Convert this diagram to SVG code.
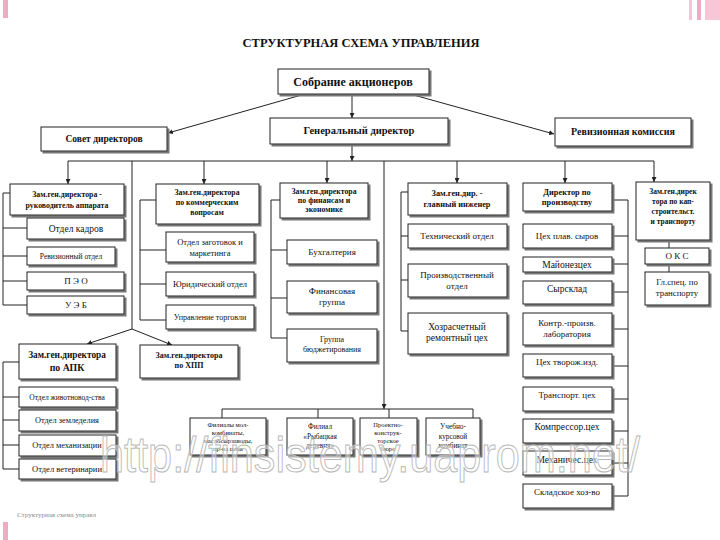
<svg xmlns="http://www.w3.org/2000/svg" width="720" height="540" viewBox="0 0 720 540">
<style>
text{font-family:"Liberation Serif","Times New Roman",serif;fill:#111;text-anchor:middle}
.b{font-weight:bold}
rect.bx{fill:#fff;stroke:#222;stroke-width:1;filter:url(#sh)}
.c{fill:none;stroke:#222;stroke-width:1}
.a{marker-end:url(#ah)}
.s{font-size:6.6px}
.wm{font-family:"Liberation Sans",Arial,sans-serif;text-anchor:start;fill:#fff;fill-opacity:0.45;stroke:#b8b8b8;stroke-width:1}
</style>
<defs>
<filter id="sh" x="-5%" y="-5%" width="115%" height="125%"><feDropShadow dx="2" dy="2" stdDeviation="0.4" flood-color="#777"/></filter>
<marker id="ah" viewBox="0 0 10 10" refX="10" refY="5" markerWidth="5" markerHeight="5" orient="auto"><path d="M0,0L10,5L0,10z" fill="#222"/></marker>
</defs>
<rect width="720" height="540" fill="#fff"/>
<rect x="3" y="0" width="5" height="18" fill="#f2a9c2"/>
<rect x="689" y="0" width="3" height="20" fill="#f6c2d4"/>
<rect x="697" y="0" width="4" height="20" fill="#f2a9c2"/>
<rect x="705" y="0" width="15" height="20" fill="#f7c6d7"/>
<rect x="3" y="522" width="5" height="18" fill="#f2a9c2"/>
<text x="361" y="47" class="b" font-size="12.5">СТРУКТУРНАЯ СХЕМА УПРАВЛЕНИЯ</text>

<g id="connectors">
<line class="c a" x1="305" y1="94" x2="168" y2="133"/>
<line class="c a" x1="410" y1="94" x2="554" y2="134"/>
<line class="c a" x1="352" y1="94" x2="352" y2="118"/>
<line class="c a" x1="352" y1="144" x2="352" y2="161"/>
<line class="c" x1="68" y1="161" x2="654" y2="161"/>
<line class="c a" x1="68" y1="161" x2="68" y2="184"/>
<line class="c a" x1="204" y1="161" x2="204" y2="184"/>
<line class="c a" x1="327" y1="161" x2="327" y2="183"/>
<line class="c a" x1="457" y1="161" x2="457" y2="183"/>
<line class="c a" x1="565" y1="161" x2="565" y2="183"/>
<line class="c a" x1="654" y1="161" x2="654" y2="182"/>
<polyline class="c" points="132,161 132,329"/>
<line class="c a" x1="132" y1="329" x2="87" y2="344"/>
<line class="c a" x1="132" y1="329" x2="172" y2="345"/>
<line class="c a" x1="384" y1="161" x2="384" y2="409"/>
<polyline class="c" points="10,193 3,193 3,305 27,305"/>
<polyline class="c" points="3,228 27,228"/>
<polyline class="c" points="3,256 27,256"/>
<polyline class="c" points="3,281 27,281"/>
<polyline class="c" points="156,200 140,200 140,320 166,320"/>
<polyline class="c" points="140,250 166,250"/>
<polyline class="c" points="140,284 166,284"/>
<polyline class="c" points="280,200 271,200 271,338 287,338"/>
<polyline class="c" points="271,250 287,250"/>
<polyline class="c" points="271,298 287,298"/>
<polyline class="c" points="408,192 401,192 401,331 408,331"/>
<polyline class="c" points="401,236 408,236"/>
<polyline class="c" points="401,280 408,280"/>
<polyline class="c" points="612,200 628,200 628,496 612,496"/>
<polyline class="c" points="612,236 628,236"/>
<polyline class="c" points="612,264 628,264"/>
<polyline class="c" points="612,292 628,292"/>
<polyline class="c" points="612,329 628,329"/>
<polyline class="c" points="612,366 628,366"/>
<polyline class="c" points="612,399 628,399"/>
<polyline class="c" points="612,431 628,431"/>
<polyline class="c" points="612,463 628,463"/>
<line class="c" x1="669" y1="240" x2="669" y2="248"/>
<line class="c" x1="669" y1="264" x2="669" y2="272"/>
<polyline class="c" points="19,362 3,362 3,469 19,469"/>
<polyline class="c" points="3,397 19,397"/>
<polyline class="c" points="3,420 19,420"/>
<polyline class="c" points="3,445 19,445"/>
<line class="c" x1="222" y1="409" x2="473" y2="409"/>
<line class="c" x1="222" y1="409" x2="222" y2="418"/>
<line class="c" x1="318" y1="409" x2="318" y2="418"/>
<line class="c" x1="389" y1="409" x2="389" y2="418"/>
<line class="c" x1="473" y1="409" x2="473" y2="418"/>
</g>

<g id="sobranie"><rect class="bx" x="278" y="69" width="151" height="25"/><text x="353" y="86" class="b" font-size="12">Собрание акционеров</text></g>
<g id="gendir"><rect class="bx" x="270" y="118" width="178" height="26"/><text x="359" y="134" class="b" font-size="10.5">Генеральный директор</text></g>
<g id="sovet"><rect class="bx" x="41" y="127" width="126" height="24"/><text x="104" y="142" class="b" font-size="9.5">Совет директоров</text></g>
<g id="revkom"><rect class="bx" x="555" y="118" width="136" height="28"/><text x="623" y="135" class="b" font-size="10">Ревизионная комиссия</text></g>

<g id="zam-apparat"><rect class="bx" x="10" y="184" width="114" height="31"/><text x="67" y="197" class="b" font-size="7.8">Зам.ген.директора -</text><text x="67" y="208" class="b" font-size="7.8">руководитель аппарата</text></g>
<g id="kadry"><rect class="bx" x="27" y="218" width="97" height="21"/><text x="76" y="232" font-size="9.5">Отдел кадров</text></g>
<g id="revotdel"><rect class="bx" x="27" y="247" width="88" height="18"/><text x="71" y="259" font-size="7.5">Ревизионный отдел</text></g>
<g id="peo"><rect class="bx" x="27" y="272" width="97" height="18"/><text x="76" y="284" font-size="9">П Э О</text></g>
<g id="ueb"><rect class="bx" x="27" y="296" width="97" height="18"/><text x="76" y="308" font-size="9">У Э Б</text></g>

<g id="zam-kom"><rect class="bx" x="156" y="184" width="103" height="40"/><text x="207" y="195" class="b" font-size="7.8">Зам.ген.директора</text><text x="207" y="205" class="b" font-size="7.8">по коммерческим</text><text x="207" y="215" class="b" font-size="7.8">вопросам</text></g>
<g id="zagotovki"><rect class="bx" x="166" y="232" width="88" height="30"/><text x="210" y="245" font-size="8.5">Отдел заготовок и</text><text x="210" y="256" font-size="8.5">маркетинга</text></g>
<g id="yurotdel"><rect class="bx" x="166" y="272" width="88" height="24"/><text x="210" y="287" font-size="8.5">Юридический отдел</text></g>
<g id="torgovlya"><rect class="bx" x="166" y="305" width="88" height="24"/><text x="210" y="320" font-size="8">Управление торговли</text></g>

<g id="zam-fin"><rect class="bx" x="280" y="183" width="88" height="35"/><text x="324" y="194" class="b" font-size="7.8">Зам.ген.директора</text><text x="324" y="203" class="b" font-size="7.8">по финансам и</text><text x="324" y="212" class="b" font-size="7.8">экономике</text></g>
<g id="buh"><rect class="bx" x="287" y="240" width="90" height="24"/><text x="332" y="255" font-size="9">Бухгалтерия</text></g>
<g id="fingr"><rect class="bx" x="287" y="281" width="90" height="32"/><text x="332" y="294" font-size="9">Финансовая</text><text x="332" y="305" font-size="9">группа</text></g>
<g id="budzhet"><rect class="bx" x="287" y="329" width="90" height="33"/><text x="332" y="342" font-size="8">Группа</text><text x="332" y="352" font-size="8">бюджетирования</text></g>

<g id="zam-ing"><rect class="bx" x="408" y="183" width="99" height="32"/><text x="457" y="196" class="b" font-size="8.3">Зам.ген.дир. -</text><text x="457" y="207" class="b" font-size="8.3">главный инженер</text></g>
<g id="tehotdel"><rect class="bx" x="408" y="224" width="99" height="24"/><text x="457" y="239" font-size="9">Технический отдел</text></g>
<g id="proizvotdel"><rect class="bx" x="408" y="264" width="99" height="33"/><text x="457" y="278" font-size="9">Производственный</text><text x="457" y="289" font-size="9">отдел</text></g>
<g id="remceh"><rect class="bx" x="408" y="313" width="99" height="41"/><text x="457" y="330" font-size="9.5">Хозрасчетный</text><text x="457" y="341" font-size="9.5">ремонтный цех</text></g>

<g id="dir-proizv"><rect class="bx" x="523" y="183" width="89" height="28"/><text x="567" y="195" class="b" font-size="8.3">Директор по</text><text x="567" y="205" class="b" font-size="8.3">производству</text></g>
<g id="plavsyr"><rect class="bx" x="523" y="224" width="89" height="24"/><text x="567" y="239" font-size="9">Цех плав. сыров</text></g>
<g id="mayonez"><rect class="bx" x="523" y="257" width="89" height="15"/><text x="567" y="268" font-size="9.5">Майонезцех</text></g>
<g id="syrsklad"><rect class="bx" x="523" y="281" width="89" height="23"/><text x="567" y="292" font-size="9.5">Сырсклад</text></g>
<g id="lab"><rect class="bx" x="523" y="313" width="89" height="32"/><text x="567" y="326" font-size="9">Контр.-произв.</text><text x="567" y="337" font-size="9">лаборатория</text></g>
<g id="tvorog"><rect class="bx" x="523" y="354" width="89" height="23"/><text x="567" y="365" font-size="9">Цех творож.изд.</text></g>
<g id="transceh"><rect class="bx" x="523" y="387" width="89" height="24"/><text x="567" y="398" font-size="9">Транспорт. цех</text></g>
<g id="kompressor"><rect class="bx" x="523" y="419" width="89" height="24"/><text x="567" y="430" font-size="9.5">Компрессор.цех</text></g>
<g id="meh"><rect class="bx" x="523" y="451" width="89" height="24"/><text x="567" y="463" font-size="9.5">Механичес.цех</text></g>
<g id="sklad"><rect class="bx" x="523" y="484" width="89" height="24"/><text x="567" y="495" font-size="9">Складское хоз-во</text></g>

<g id="zam-kap"><rect class="bx" x="636" y="182" width="74" height="58"/><text x="673" y="194" class="b" font-size="7.5">Зам.ген.дирек</text><text x="673" y="204" class="b" font-size="7.5">тора по кап-</text><text x="673" y="214" class="b" font-size="7.5">строительст.</text><text x="673" y="224" class="b" font-size="7.5">и транспорту</text></g>
<g id="oks"><rect class="bx" x="645" y="248" width="64" height="16"/><text x="677" y="259" font-size="9">О К С</text></g>
<g id="glspec"><rect class="bx" x="645" y="272" width="64" height="33"/><text x="677" y="285" font-size="8.8">Гл.спец. по</text><text x="677" y="296" font-size="8.8">транспорту</text></g>

<g id="zam-apk"><rect class="bx" x="19" y="344" width="97" height="35"/><text x="67" y="358" class="b" font-size="9.3">Зам.ген.директора</text><text x="67" y="371" class="b" font-size="9.8">по АПК</text></g>
<g id="zam-hpp"><rect class="bx" x="140" y="345" width="98" height="33"/><text x="189" y="358" class="b" font-size="8">Зам.ген.директора</text><text x="189" y="368" class="b" font-size="8">по ХПП</text></g>
<g id="zhivot"><rect class="bx" x="19" y="387" width="97" height="20"/><text x="67" y="400" font-size="7.5">Отдел животновод-ства</text></g>
<g id="zemled"><rect class="bx" x="19" y="410" width="97" height="21"/><text x="67" y="423" font-size="8.3">Отдел земледелия</text></g>
<g id="mehaniz"><rect class="bx" x="19" y="435" width="97" height="21"/><text x="67" y="448" font-size="8.3">Отдел механизации</text></g>
<g id="veterin"><rect class="bx" x="19" y="459" width="97" height="20"/><text x="67" y="472" font-size="8.5">Отдел ветеринарии</text></g>

<g id="filialy"><rect class="bx" x="190" y="418" width="76" height="37"/><text x="228" y="426.5" class="s">Филиалы мол-</text><text x="228" y="434.5" class="s">комбинаты,</text><text x="228" y="442.5" class="s">маслосырзаводы,</text><text x="228" y="450.5" class="s">пр-ва цехи</text></g>
<g id="rybackaya"><rect class="bx" x="287" y="418" width="66" height="37"/><text x="320" y="429" font-size="7.3">Филиал</text><text x="320" y="438.5" font-size="7.3">«Рыбацкая</text><text x="320" y="448" font-size="7.3">деревня»</text></g>
<g id="proekt"><rect class="bx" x="360" y="418" width="57" height="37"/><text x="388" y="426.5" class="s">Проектно-</text><text x="388" y="434.5" class="s">конструк-</text><text x="388" y="442.5" class="s">торское</text><text x="388" y="450.5" class="s">бюро</text></g>
<g id="uchebno"><rect class="bx" x="426" y="418" width="54" height="37"/><text x="453" y="429" font-size="7.3">Учебно-</text><text x="453" y="438.5" font-size="7.3">курсовой</text><text x="453" y="448" font-size="7.3">комбинат</text></g>

<text x="100" y="472" class="wm" font-size="50" textLength="540" lengthAdjust="spacingAndGlyphs">http://finsistemy.uaprom.net/</text>
<text x="17" y="517" font-size="7" style="text-anchor:start;fill:#888">Структурная схема управл</text>
</svg>
